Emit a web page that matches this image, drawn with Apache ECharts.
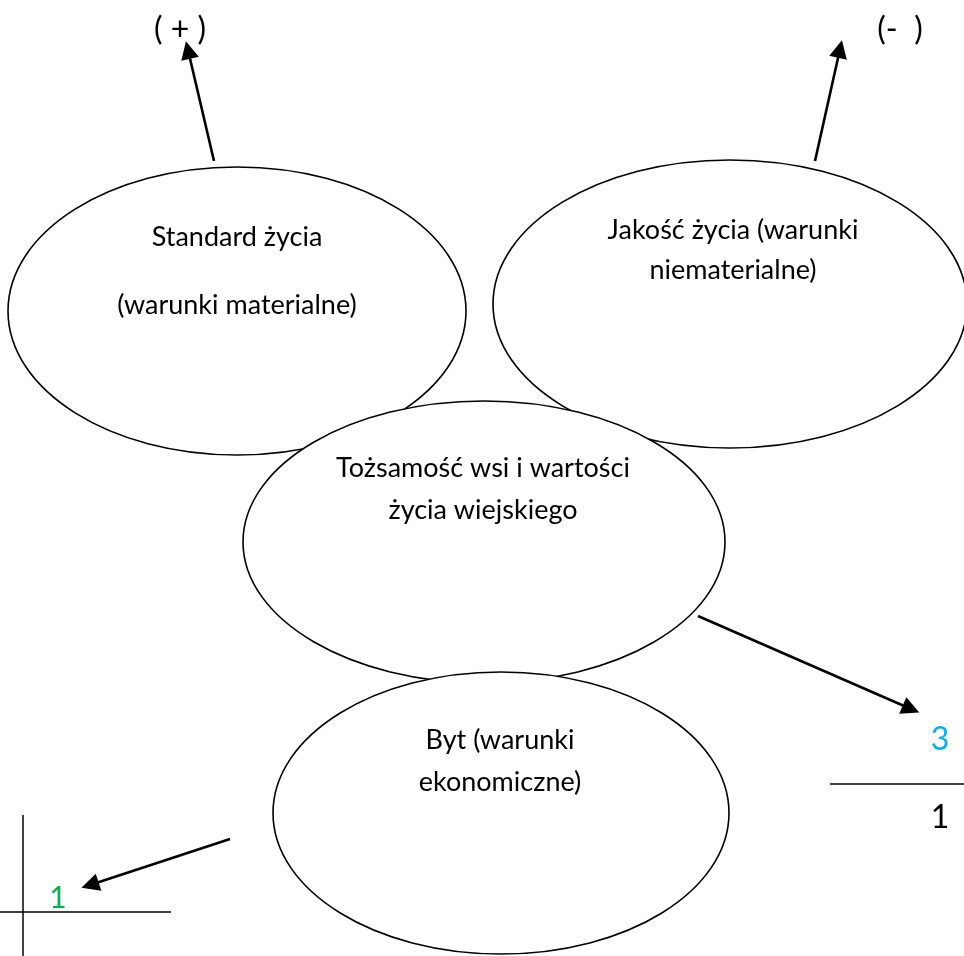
<!DOCTYPE html>
<html>
<head>
<meta charset="utf-8">
<script src="https://cdn.jsdelivr.net/npm/echarts@6/dist/echarts.min.js"></script>
<style>html,body{margin:0;padding:0;background:#fff}#c{width:964px;height:956px}</style>
</head>
<body>
<div id="c"></div>
<script>
// Ellipses: [cx, cy, rx, ry] in diagram units
const ellipses = [
  [237, 311, 229, 144],
  [730, 304, 237, 144],
  [484, 542, 241, 141],
  [501, 813, 228, 141]
];
// Text labels: [x, y, text, color, size]
const labels = [
  [237, 237, 'Standard życia', '#000', 27],
  [237, 305, '(warunki materialne)', '#000', 27],
  [733, 230, 'Jakość życia (warunki', '#000', 27],
  [733, 270, 'niematerialne)', '#000', 27],
  [483, 468, 'Tożsamość wsi i wartości', '#000', 27],
  [483, 510, 'życia wiejskiego', '#000', 27],
  [500, 740, 'Byt (warunki', '#000', 27],
  [500, 782, 'ekonomiczne)', '#000', 27],
  [180, 30, '( + )', '#000', 32],
  [900, 30, '(-  )', '#000', 32],
  [58, 898, '1', '#00B050', 30],
  [940, 740, '3', '#00B0F0', 32],
  [940, 818, '1', '#000', 32]
];
// Arrows: [[x1,y1],[x2,y2]]
const arrows = [
  [[214, 161], [188, 50]],
  [[815, 161], [840, 49]],
  [[698, 616], [911, 709]],
  [[230, 839], [90, 885]]
];
// Plain lines
const plainLines = [
  [[23, 815], [23, 956]],
  [[0, 912], [171, 912]],
  [[830, 784], [964, 784]]
];

const chart = echarts.init(document.getElementById('c'));
const FONT = 'Lato';
chart.setOption({
  animation: false,
  grid: {left: 0, right: 0, top: 0, bottom: 0},
  xAxis: {type: 'value', min: 0, max: 964, show: false},
  yAxis: {type: 'value', min: 0, max: 956, inverse: true, show: false},
  series: [
    {
      type: 'custom',
      coordinateSystem: 'cartesian2d',
      data: ellipses,
      z: 2,
      renderItem: function (params, api) {
        const c = api.coord([api.value(0), api.value(1)]);
        const s = api.size([api.value(2), api.value(3)]);
        return {
          type: 'ellipse',
          shape: {cx: c[0], cy: c[1], rx: s[0], ry: s[1]},
          style: {fill: '#fff', stroke: '#000', lineWidth: 1.6}
        };
      }
    },
    {
      type: 'custom',
      coordinateSystem: 'cartesian2d',
      data: labels.map(l => [l[0], l[1]]),
      z: 5,
      renderItem: function (params, api) {
        const l = labels[params.dataIndex];
        const c = api.coord([api.value(0), api.value(1)]);
        return {
          type: 'text',
          style: {
            x: c[0], y: c[1], text: l[2], fill: l[3],
            align: 'center', verticalAlign: 'middle',
            fontFamily: FONT, fontSize: l[4]
          }
        };
      }
    },
    {
      type: 'lines',
      coordinateSystem: 'cartesian2d',
      z: 6,
      symbol: ['none', 'triangle'],
      symbolSize: [12, 18],
      lineStyle: {color: '#000', width: 2.6, opacity: 1},
      data: arrows.map(a => ({coords: a}))
    },
    {
      type: 'lines',
      coordinateSystem: 'cartesian2d',
      z: 6,
      symbol: 'none',
      lineStyle: {color: '#000', width: 1.5, opacity: 1},
      data: plainLines.map(a => ({coords: a}))
    }
  ]
});
</script>
</body>
</html>
